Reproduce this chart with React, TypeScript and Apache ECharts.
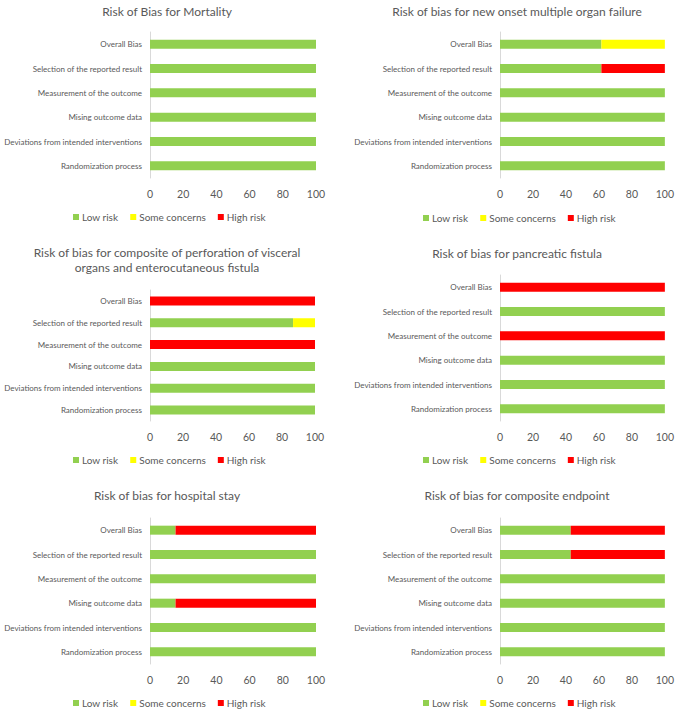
import React, { useEffect, useRef } from "react";
import * as echarts from "echarts";

const categories = [
  "Overall Bias",
  "Selection of the reported result",
  "Measurement of the outcome",
  "Mising outcome data",
  "Deviations from intended interventions",
  "Randomization process",
];
const xTicks = [0, 20, 40, 60, 80, 100];
const riskLevels = ["Low risk", "Some concerns", "High risk"];

const titles = [
  "Risk of Bias for Mortality",
  "Risk of bias for new onset multiple organ failure",
  "Risk of bias for composite of perforation of visceral\norgans and enterocutaneous fistula",
  "Risk of bias for pancreatic fistula",
  "Risk of bias for hospital stay",
  "Risk of bias for composite endpoint",
];

const mortalityLow = [100, 100, 100, 100, 100, 100];
const mortalitySome = [0, 0, 0, 0, 0, 0];
const mortalityHigh = [0, 0, 0, 0, 0, 0];

const mofLow = [61.5, 61.5, 100, 100, 100, 100];
const mofSome = [38.5, 0, 0, 0, 0, 0];
const mofHigh = [0, 38.5, 0, 0, 0, 0];

const perforationLow = [0, 86.7, 0, 100, 100, 100];
const perforationSome = [0, 13.3, 0, 0, 0, 0];
const perforationHigh = [100, 0, 100, 0, 0, 0];

const pancreaticLow = [0, 100, 0, 100, 100, 100];
const pancreaticSome = [0, 0, 0, 0, 0, 0];
const pancreaticHigh = [100, 0, 100, 0, 0, 0];

const hospitalLow = [15.4, 100, 100, 15.4, 100, 100];
const hospitalSome = [0, 0, 0, 0, 0, 0];
const hospitalHigh = [84.6, 0, 0, 84.6, 0, 0];

const compositeLow = [42.9, 42.9, 100, 100, 100, 100];
const compositeSome = [0, 0, 0, 0, 0, 0];
const compositeHigh = [57.1, 57.1, 0, 0, 0, 0];

const panelData = [
  [mortalityLow, mortalitySome, mortalityHigh],
  [mofLow, mofSome, mofHigh],
  [perforationLow, perforationSome, perforationHigh],
  [pancreaticLow, pancreaticSome, pancreaticHigh],
  [hospitalLow, hospitalSome, hospitalHigh],
  [compositeLow, compositeSome, compositeHigh],
];

const COLORS = ["#92D050", "#FFFF00", "#FF0000"];
const TEXT = "#595959";
const FONT = "Lato, 'Open Sans', sans-serif";

// layout: [gridLeft, gridTop, gridWidth, gridHeight, titleCenterX, titleTop, legendLeft, legendTop]
const layouts = [
  [150, 32, 166, 146, 167, 4, 73, 212],
  [500, 32, 166, 146, 517, 4, 423, 213],
  [150, 290, 165, 131, 167, 245, 73, 455],
  [500, 275, 166, 146, 517, 246, 423, 455],
  [150, 518, 166, 146, 167, 488, 73, 698],
  [500, 518, 166, 146, 517, 488, 423, 698],
];

export default function App() {
  const ref = useRef<HTMLDivElement>(null);
  useEffect(() => {
    if (!ref.current) return;
    const chart = echarts.init(ref.current, null, { renderer: "svg" });
    const title: any[] = [];
    const grid: any[] = [];
    const xAxis: any[] = [];
    const yAxis: any[] = [];
    const legend: any[] = [];
    const series: any[] = [];
    layouts.forEach((l, i) => {
      const [gl, gt, gw, gh, tx, tt, ll, lt] = l;
      title.push({
        text: titles[i],
        left: tx,
        top: tt,
        padding: 0,
        textAlign: "center",
        textStyle: {
          color: TEXT,
          fontFamily: FONT,
          fontSize: 12,
          fontWeight: "normal",
          lineHeight: 15,
        },
      });
      grid.push({ left: gl, top: gt, width: gw, height: gh, containLabel: false });
      xAxis.push({
        type: "value",
        gridIndex: i,
        min: 0,
        max: 100,
        interval: 20,
        axisLine: { show: false },
        axisTick: { show: false },
        splitLine: { show: false },
        axisLabel: {
          color: TEXT,
          fontFamily: FONT,
          fontSize: 10.5,
          margin: 10,
          formatter: (v: number) => (xTicks.includes(v) ? String(v) : ""),
        },
      });
      yAxis.push({
        type: "category",
        gridIndex: i,
        data: categories,
        inverse: true,
        axisLine: { show: true, lineStyle: { color: "#D9D9D9", width: 1 } },
        axisTick: { show: false },
        axisLabel: {
          color: TEXT,
          fontFamily: FONT,
          fontSize: 8,
          margin: 8,
        },
      });
      legend.push({
        left: ll,
        top: lt,
        padding: 0,
        itemWidth: 6,
        itemHeight: 6,
        itemGap: 12,
        icon: "rect",
        data: riskLevels,
        textStyle: { color: TEXT, fontFamily: FONT, fontSize: 10, padding: [0, 0, 0, -2] },
      });
      riskLevels.forEach((name, k) => {
        series.push({
          name,
          type: "bar",
          stack: "s" + i,
          xAxisIndex: i,
          yAxisIndex: i,
          barWidth: 9,
          itemStyle: { color: COLORS[k] },
          data: panelData[i][k],
        });
      });
    });
    chart.setOption({
      animation: false,
      backgroundColor: "#FFFFFF",
      color: COLORS,
      title,
      grid,
      xAxis,
      yAxis,
      legend,
      series,
    });
    return () => chart.dispose();
  }, []);
  return (
    <div
      ref={ref}
      style={{ position: "fixed", left: 0, top: 0, width: 677, height: 713 }}
    />
  );
}
